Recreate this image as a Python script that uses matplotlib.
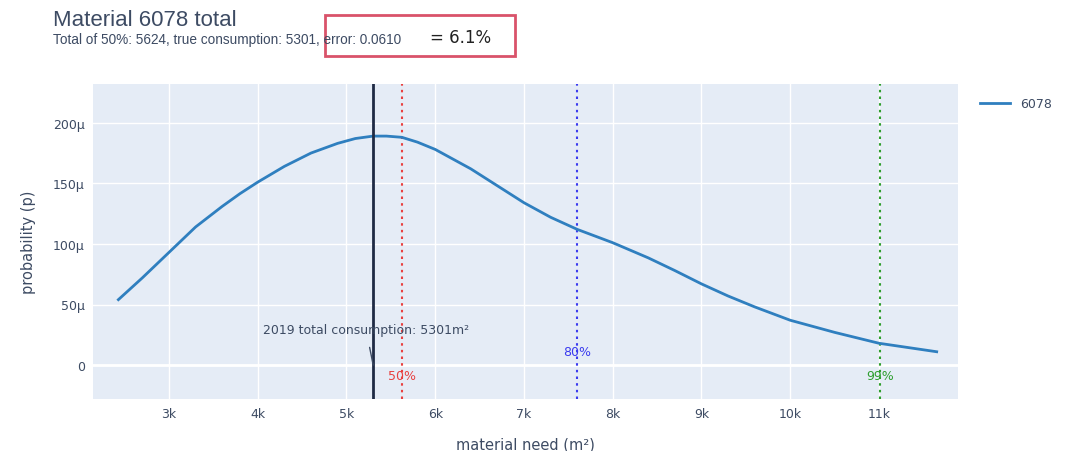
import matplotlib
matplotlib.use("Agg")
import matplotlib.pyplot as plt
from matplotlib.patches import Rectangle
from matplotlib.ticker import FuncFormatter

# ---- data ----
need_x = [2430, 2700, 3000, 3300, 3600, 3800, 4000, 4300, 4600, 4900, 5100, 5300, 5450,
          5624, 5800, 6000, 6200, 6400, 6700, 7000, 7300, 7600, 8000, 8400, 8700, 9000,
          9300, 9600, 10000, 10500, 11000, 11650]
prob_y = [54, 72, 93, 114, 131, 141.5, 151, 164, 175, 183, 187, 189, 189,
          188, 184, 178, 170, 162, 148, 134, 122, 112, 101, 88.5, 78, 67,
          57, 48, 37, 27, 18, 11]
prob_y = [v * 1e-6 for v in prob_y]
series_name = "6078"
true_consumption = 5301
pct_labels = ["50%", "80%", "99%"]
pct_values = [5624, 7600, 11010]
pct_colors = ["#e8403f", "#3b3bef", "#2e9e2e"]
pct_label_y = [-9e-6, 11e-6, -9e-6]
x_ticks = [3000, 4000, 5000, 6000, 7000, 8000, 9000, 10000, 11000]
y_ticks = [0, 50e-6, 100e-6, 150e-6, 200e-6]

fg = "#3d4b63"
W, H = 1065, 452
fig = plt.figure(figsize=(W / 100, H / 100), dpi=100)
ax = fig.add_axes([93 / W, 1 - 400 / H, (958 - 93) / W, (400 - 85) / H])
ax.set_facecolor("#E5ECF6")
for s in ax.spines.values():
    s.set_visible(False)
ax.grid(True, color="white", linewidth=1.0)
ax.set_axisbelow(True)
ax.axhline(0, color="white", linewidth=2, zorder=1)

ax.set_xlim(2144, 11890)
ax.set_ylim(-28e-6, 232e-6)
ax.set_xticks(x_ticks)
ax.xaxis.set_major_formatter(FuncFormatter(lambda v, p: f"{int(v/1000)}k"))
ax.set_yticks(y_ticks)
ax.yaxis.set_major_formatter(FuncFormatter(lambda v, p: "0" if abs(v) < 1e-12 else f"{round(v*1e6)}μ"))
ax.tick_params(length=0, labelsize=9, colors=fg, pad=6)

ax.plot(need_x, prob_y, color="#2f7fbf", linewidth=2, label=series_name, zorder=3,
        solid_joinstyle="round")

ax.axvline(true_consumption, color="#1f2a44", linewidth=2, zorder=4)
for lab, v, c, ly in zip(pct_labels, pct_values, pct_colors, pct_label_y):
    ax.axvline(v, color=c, linestyle=(0, (1.2, 2.0)), linewidth=1.5, zorder=2)
    ax.text(v, ly, lab, color=c, fontsize=9, ha="center", va="center", zorder=5)

ax.annotate(f"2019 total consumption: {true_consumption}m²", xy=(true_consumption, 0),
            xytext=(true_consumption - 80, 29e-6), textcoords="data",
            ha="center", va="center", fontsize=9, color=fg,
            arrowprops=dict(arrowstyle="-", color=fg, lw=1, shrinkA=6, shrinkB=0), zorder=6)

ax.set_xlabel("material need (m²)", fontsize=10.5, color=fg, labelpad=12)
ax.set_ylabel("probability (p)", fontsize=10.5, color=fg, labelpad=12)

leg = ax.legend(loc="upper left", bbox_to_anchor=(975 / W, 1 - 93 / H), bbox_transform=fig.transFigure,
                frameon=False, fontsize=9, handlelength=2.4, borderaxespad=0)
for t in leg.get_texts():
    t.set_color(fg)

fig.text(53 / W, 1 - 20 / H, "Material 6078 total", fontsize=16, color=fg, va="center", ha="left",
         family="Liberation Sans")
fig.text(53 / W, 1 - 40 / H, "Total of 50%: 5624, true consumption: 5301, error: 0.0610",
         fontsize=9.8, color=fg, va="center", ha="left", family="Liberation Sans")
fig.text(430 / W, 1 - 38 / H, "= 6.1%", fontsize=12, color="#222222", va="center", ha="left")
fig.patches.append(Rectangle((325 / W, 1 - 57 / H), (515 - 325) / W, (57 - 16) / H,
                             transform=fig.transFigure, fill=False, edgecolor="#d9536a", linewidth=2))

fig.savefig("out.png", dpi=100, facecolor="white")
